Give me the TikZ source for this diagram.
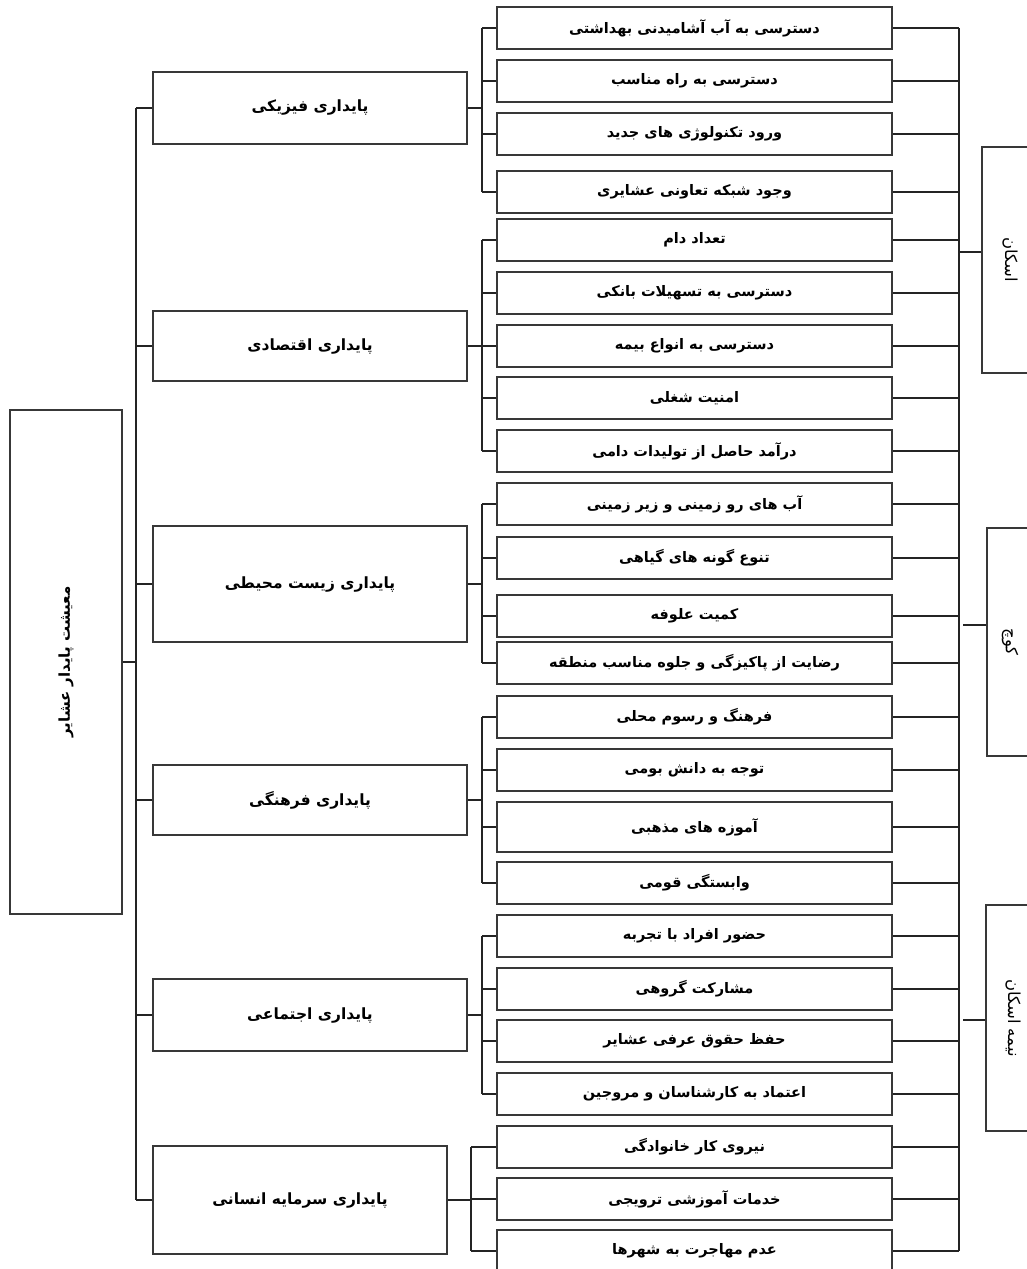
\documentclass[tikz,border=0pt]{standalone}
\usepackage{fontspec}
\usepackage{tikz}
\usetikzlibrary{calc}
\newfontfamily\fafont[Script=Arabic]{DejaVu Sans}
\TeXXeTstate=1
\definecolor{TreeInk}{HTML}{242424}
\definecolor{TreeEdge}{HTML}{383838}
\tikzset{
  box/.style={draw=TreeEdge,line width=2pt,fill=white,inner sep=0pt,
    font=\fafont\bfseries\fontsize{14.5}{17}\selectfont,
    execute at begin node=\beginR,execute at end node=\endR},
  leaf/.style={box,minimum width=395pt,minimum height=42pt},
  pillar/.style={box,minimum width=314pt,font=\fafont\bfseries\fontsize{15.5}{18}\selectfont},
  scheme/.style={box,font=\fafont\fontsize{16.5}{19}\selectfont,rotate=-90},
  link/.style={draw=TreeInk,line width=2pt}
}

\begin{document}
\begin{tikzpicture}[x=1pt,y=-1pt]
\useasboundingbox (0,0) rectangle (1027,1269);
\fill[white] (0,0) rectangle (1027,1269);
\coordinate (trunk) at (136,662);
\coordinate (br) at (482,0);
\coordinate (brh) at (471,0);
\coordinate (bus) at (959,0);
\node[box,rotate=90,minimum width=504pt,minimum height=112pt,font=\fafont\bfseries\fontsize{15}{18}\selectfont] (root) at (66,662) {معیشت پایدار عشایر};
\node[pillar,minimum height=72pt] (c1) at (310,108) {پایداری فیزیکی};
\node[pillar,minimum height=70pt] (c2) at (310,346) {پایداری اقتصادی};
\node[pillar,minimum height=116pt] (c3) at (310,584) {پایداری زیست محیطی};
\node[pillar,minimum height=70pt] (c4) at (310,800) {پایداری فرهنگی};
\node[pillar,minimum height=72pt] (c5) at (310,1015) {پایداری اجتماعی};
\node[pillar,minimum width=294pt,minimum height=108pt] (c6) at (300,1200) {پایداری سرمایه انسانی};
\node[leaf] (l1) at (694.5,28) {دسترسی به آب آشامیدنی بهداشتی};
\node[leaf] (l2) at (694.5,81) {دسترسی به راه مناسب};
\node[leaf] (l3) at (694.5,134) {ورود تکنولوژی های جدید};
\node[leaf] (l4) at (694.5,192) {وجود شبکه تعاونی عشایری};
\node[leaf] (l5) at (694.5,240) {تعداد دام};
\node[leaf] (l6) at (694.5,293) {دسترسی به تسهیلات بانکی};
\node[leaf] (l7) at (694.5,346) {دسترسی به انواع بیمه};
\node[leaf] (l8) at (694.5,398) {امنیت شغلی};
\node[leaf] (l9) at (694.5,451) {درآمد حاصل از تولیدات دامی};
\node[leaf] (l10) at (694.5,504) {آب های رو زمینی و زیر زمینی};
\node[leaf] (l11) at (694.5,558) {تنوع گونه های گیاهی};
\node[leaf] (l12) at (694.5,616) {کمیت علوفه};
\node[leaf] (l13) at (694.5,663) {رضایت از پاکیزگی و جلوه مناسب منطقه};
\node[leaf] (l14) at (694.5,717) {فرهنگ و رسوم محلی};
\node[leaf] (l15) at (694.5,770) {توجه به دانش بومی};
\node[leaf,minimum height=50pt] (l16) at (694.5,827) {آموزه های مذهبی};
\node[leaf] (l17) at (694.5,883) {وابستگی قومی};
\node[leaf] (l18) at (694.5,936) {حضور افراد با تجربه};
\node[leaf] (l19) at (694.5,989) {مشارکت گروهی};
\node[leaf] (l20) at (694.5,1041) {حفظ حقوق عرفی عشایر};
\node[leaf] (l21) at (694.5,1094) {اعتماد به کارشناسان و مروجین};
\node[leaf] (l22) at (694.5,1147) {نیروی کار خانوادگی};
\node[leaf] (l23) at (694.5,1199) {خدمات آموزشی ترویجی};
\node[leaf] (l24) at (694.5,1251) {عدم مهاجرت به شهرها};
\node[scheme,minimum width=226pt,minimum height=56pt] (eskan) at (1010,260) {اسکان};
\node[scheme,minimum width=228pt,minimum height=46pt] (kooch) at (1010,642) {کوچ};
\node[scheme,minimum width=226pt,minimum height=54pt] (nime) at (1013,1018) {نیمه اسکان};
\coordinate (eskanin) at ($(eskan.south)+(0,-8)$);
\coordinate (koochin) at ($(kooch.south)+(0,-17)$);
\coordinate (nimein) at ($(nime.south)+(0,2)$);
\draw[link] (root.south) -- (trunk);
\draw[link] (c1.west -| trunk) -- (c6.west -| trunk);
\foreach \c in {c1,c2,c3,c4,c5,c6} \draw[link] (\c.west) -- (\c.west -| trunk);
\foreach \c/\f/\l in {c1/l1/l4,c2/l5/l9,c3/l10/l13,c4/l14/l17,c5/l18/l21}{
  \draw[link] (\f.west -| br) -- (\l.west -| br);
  \draw[link] (\c.east) -- (\c.east -| br);
}
\foreach \i in {1,...,21} \draw[link] (l\i.west) -- (l\i.west -| br);
\draw[link] (l22.west -| brh) -- (l24.west -| brh);
\draw[link] (c6.east) -- (c6.east -| brh);
\foreach \i in {22,23,24} \draw[link] (l\i.west) -- (l\i.west -| brh);
\draw[link] (l1.east -| bus) -- (l24.east -| bus);
\foreach \i in {1,...,24} \draw[link] (l\i.east) -- (l\i.east -| bus);
\draw[link] (eskanin) -- (eskanin -| bus);
\draw[link] (koochin) -- ($(koochin -| bus)+(4,0)$);
\draw[link] (nimein) -- ($(nimein -| bus)+(4,0)$);
\end{tikzpicture}
\end{document}
